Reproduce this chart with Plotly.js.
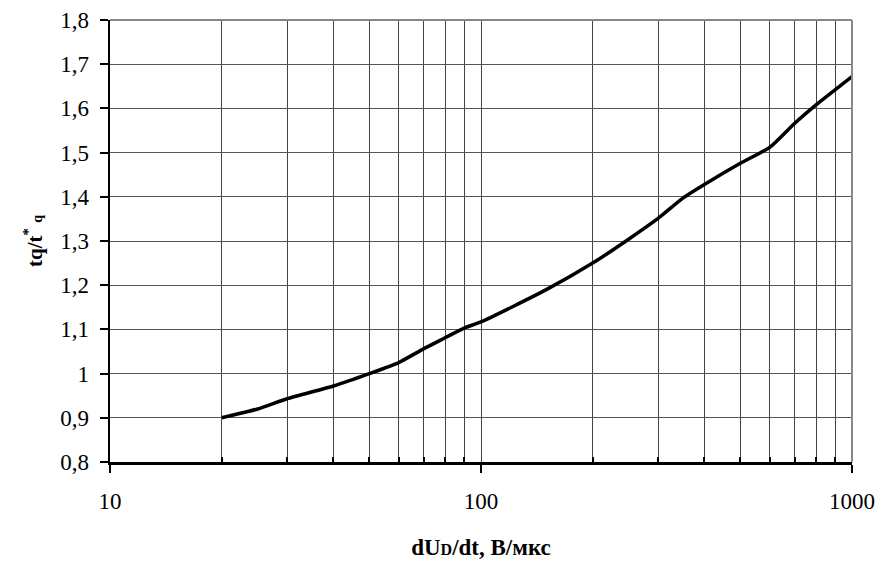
<!DOCTYPE html>
<html>
<head>
<meta charset="utf-8">
<script src="https://cdn.plot.ly/plotly-3.0.1.min.js"></script>
<style>html,body{margin:0;padding:0;background:#fff;}#chart{width:880px;height:565px;}</style>
</head>
<body>
<div id="chart"></div>
<script>
const dUdt = [20, 25, 30, 40, 50, 60, 70, 80, 90, 100, 150, 200, 250, 300, 350, 400, 500, 600, 700, 800, 900, 1000];
const ratio = [0.9, 0.92, 0.943, 0.972, 1.0, 1.025, 1.056, 1.081, 1.103, 1.117, 1.19, 1.25, 1.304, 1.351, 1.397, 1.428, 1.476, 1.512, 1.566, 1.608, 1.642, 1.672];
const xMajorTicks = [10, 100, 1000];
const xMinorTicks = [20, 30, 40, 50, 60, 70, 80, 90, 200, 300, 400, 500, 600, 700, 800, 900];

const font = "Liberation Serif";

Plotly.newPlot('chart', [{
  x: dUdt, y: ratio, type: 'scatter', mode: 'lines',
  line: {color: '#000', width: 3.5, shape: 'spline', smoothing: 0.6},
  hoverinfo: 'skip'
}], {
  width: 880, height: 565,
  margin: {l: 110, r: 28, t: 20, b: 103},
  paper_bgcolor: '#fff', plot_bgcolor: '#fff',
  separators: ', ',
  showlegend: false,
  font: {family: font, color: '#000', size: 22},
  xaxis: {
    type: 'log', range: [1, 3],
    tickmode: 'array', tickvals: xMajorTicks, ticktext: xMajorTicks.map(String),
    ticks: 'outside', ticklen: 8, tickwidth: 2, tickcolor: '#000',
    ticklabelstandoff: 9,
    showgrid: true, gridcolor: '#444', gridwidth: 1,
    showline: true, linecolor: '#000', linewidth: 2.5,
    zeroline: false,
    tickfont: {family: font, size: 23, color: '#000'},
    minor: {tickmode: 'array', tickvals: xMinorTicks, ticks: 'inside', ticklen: 5, tickwidth: 2, tickcolor: '#000', showgrid: true, gridcolor: '#444', gridwidth: 1},
    title: {text: 'dU<span style="font-size:16px">D</span>/dt, В/мкс', font: {family: font, size: 23, color: '#000', weight: 'bold'}, standoff: 26}
  },
  yaxis: {
    range: [0.8, 1.8], dtick: 0.1, tick0: 0.8,
    ticks: 'outside', ticklen: 8, tickwidth: 2, tickcolor: '#000',
    ticklabelstandoff: 6,
    showgrid: true, gridcolor: '#555', gridwidth: 1,
    showline: true, linecolor: '#000', linewidth: 2.5,
    zeroline: false,
    tickfont: {family: font, size: 23, color: '#000'},
    title: {text: 'tq/t<sup>*</sup> <span style="font-size:14px">q</span>', font: {family: font, size: 21, color: '#000', weight: 'bold'}, standoff: 12}
  },
  shapes: [
    {type: 'line', xref: 'paper', yref: 'paper', x0: 0, x1: 1, y0: 1, y1: 1, line: {color: '#888', width: 2}},
    {type: 'line', xref: 'paper', yref: 'paper', x0: 1, x1: 1, y0: 0, y1: 1, line: {color: '#888', width: 2}}
  ]
}, {staticPlot: true});
</script>
</body>
</html>
